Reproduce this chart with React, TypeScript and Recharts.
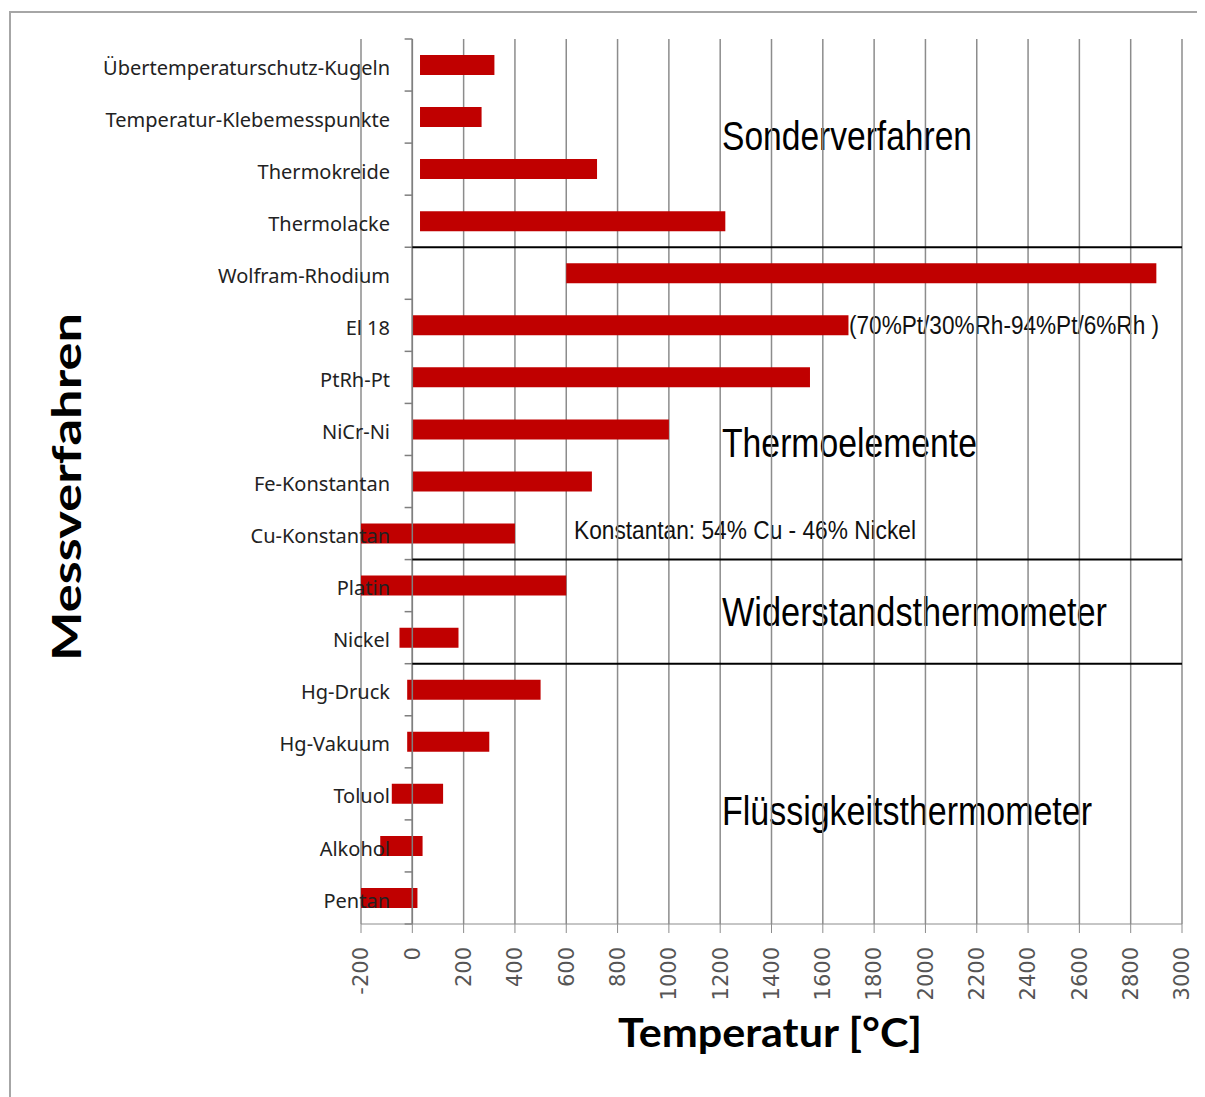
import { Bar, BarChart, CartesianGrid, ReferenceLine, XAxis, YAxis } from "recharts";

const categories = [
  "Übertemperaturschutz-Kugeln",
  "Temperatur-Klebemesspunkte",
  "Thermokreide",
  "Thermolacke",
  "Wolfram-Rhodium",
  "El 18",
  "PtRh-Pt",
  "NiCr-Ni",
  "Fe-Konstantan",
  "Cu-Konstantan",
  "Platin",
  "Nickel",
  "Hg-Druck",
  "Hg-Vakuum",
  "Toluol",
  "Alkohol",
  "Pentan",
];

// Messbereich von / bis in °C
const minTemps = [30, 30, 30, 30, 600, 0, 0, 0, 0, -200, -200, -50, -20, -20, -80, -125, -200];
const maxTemps = [320, 270, 720, 1220, 2900, 1700, 1550, 1000, 700, 400, 600, 180, 500, 300, 120, 40, 20];

const xTicks = [-200, 0, 200, 400, 600, 800, 1000, 1200, 1400, 1600, 1800, 2000, 2200, 2400, 2600, 2800, 3000];

// erste Kategorie jeder neuen Gruppe (Trennlinie darüber)
const groupStarts = ["Wolfram-Rhodium", "Platin", "Hg-Druck"];

const rows = categories.map((name, i) => ({ name, range: [minTemps[i], maxTemps[i]] }));

const GRID = "#8c8c8c";

function XTick({ x, y, payload }: any) {
  const ty = y + 12;
  return (
    <text
      x={x}
      y={ty}
      dy="0.35em"
      transform={`rotate(-90, ${x}, ${ty})`}
      textAnchor="end"
      fontFamily="'DejaVu Sans', sans-serif"
      fontSize={21}
      fill="#555"
    >
      {payload.value}
    </text>
  );
}

function YTick({ x, y, payload }: any) {
  return (
    <text
      x={x + 29}
      y={y}
      dy="0.48em"
      textAnchor="end"
      fontFamily="'Noto Sans', sans-serif"
      fontSize={20}
      fill="#222"
    >
      {payload.value}
    </text>
  );
}

const narrow = "'Liberation Sans Narrow', 'Liberation Sans', sans-serif";
const boldFont = "Lato, 'Open Sans', sans-serif";

export default function App() {
  return (
    <div style={{ position: "relative", width: 1197, height: 1089 }}>
      <svg
        width={1197}
        height={1089}
        style={{ position: "absolute", left: 0, top: 0 }}
      >
        <path d="M 2 1089 L 2 4 L 1197 4" fill="none" stroke="#a6a6a6" strokeWidth={2} />
        <text x={714} y={142} fontFamily={narrow} fontSize={41} textLength={250} lengthAdjust="spacingAndGlyphs" fill="#000">
          Sonderverfahren
        </text>
        <text x={714} y={449} fontFamily={narrow} fontSize={41} textLength={255} lengthAdjust="spacingAndGlyphs" fill="#000">
          Thermoelemente
        </text>
        <text x={714} y={618} fontFamily={narrow} fontSize={41} textLength={385} lengthAdjust="spacingAndGlyphs" fill="#000">
          Widerstandsthermometer
        </text>
        <text x={714} y={817} fontFamily={narrow} fontSize={41} textLength={370} lengthAdjust="spacingAndGlyphs" fill="#000">
          Flüssigkeitsthermometer
        </text>
        <text x={841} y={326} fontFamily={narrow} fontSize={25} textLength={310} lengthAdjust="spacingAndGlyphs" fill="#111">
          (70%Pt/30%Rh-94%Pt/6%Rh )
        </text>
        <text x={566} y={531} fontFamily={narrow} fontSize={25} textLength={342} lengthAdjust="spacingAndGlyphs" fill="#111">
          Konstantan: 54% Cu - 46% Nickel
        </text>
        <text x={610} y={1039} fontFamily={boldFont} fontWeight={700} fontSize={40} textLength={304} lengthAdjust="spacingAndGlyphs" fill="#000">
          Temperatur [°C]
        </text>
        <text
          x={72.7}
          y={479}
          transform="rotate(-90, 72.7, 479)"
          textAnchor="middle"
          fontFamily={boldFont}
          fontWeight={700}
          fontSize={40}
          textLength={348}
          lengthAdjust="spacingAndGlyphs"
          fill="#000"
        >
          Messverfahren
        </text>
      </svg>
      <BarChart
        width={1197}
        height={1089}
        data={rows}
        layout="vertical"
        barSize={20}
        margin={{ top: 31, right: 23, bottom: 93, left: 0 }}
      >
        <CartesianGrid horizontal={false} stroke={GRID} strokeWidth={1.5} />
        <XAxis
          type="number"
          domain={[-200, 3000]}
          ticks={xTicks}
          interval={0}
          height={80}
          stroke={GRID}
          tickSize={9}
          tick={<XTick />}
        />
        <YAxis
          type="category"
          dataKey="name"
          width={353}
          interval={0}
          axisLine={false}
          tickLine={false}
          tickSize={0}
          tickMargin={0}
          tick={<YTick />}
        />
        <Bar dataKey="range" fill="#c00000" isAnimationActive={false} />
        <ReferenceLine x={0} stroke="#7f7f7f" strokeWidth={1.5} />
        {categories.map((name) => (
          <ReferenceLine
            key={`t-${name}`}
            position="start"
            segment={[
              { x: -30, y: name },
              { x: 0, y: name },
            ]}
            stroke="#7f7f7f"
            strokeWidth={1.5}
          />
        ))}
        <ReferenceLine
          position="end"
          segment={[
            { x: -30, y: categories[categories.length - 1] },
            { x: 0, y: categories[categories.length - 1] },
          ]}
          stroke="#7f7f7f"
          strokeWidth={1.5}
        />
        {groupStarts.map((name) => (
          <ReferenceLine
            key={`g-${name}`}
            position="start"
            segment={[
              { x: 0, y: name },
              { x: 3000, y: name },
            ]}
            stroke="#000"
            strokeWidth={2}
          />
        ))}
      </BarChart>
    </div>
  );
}
